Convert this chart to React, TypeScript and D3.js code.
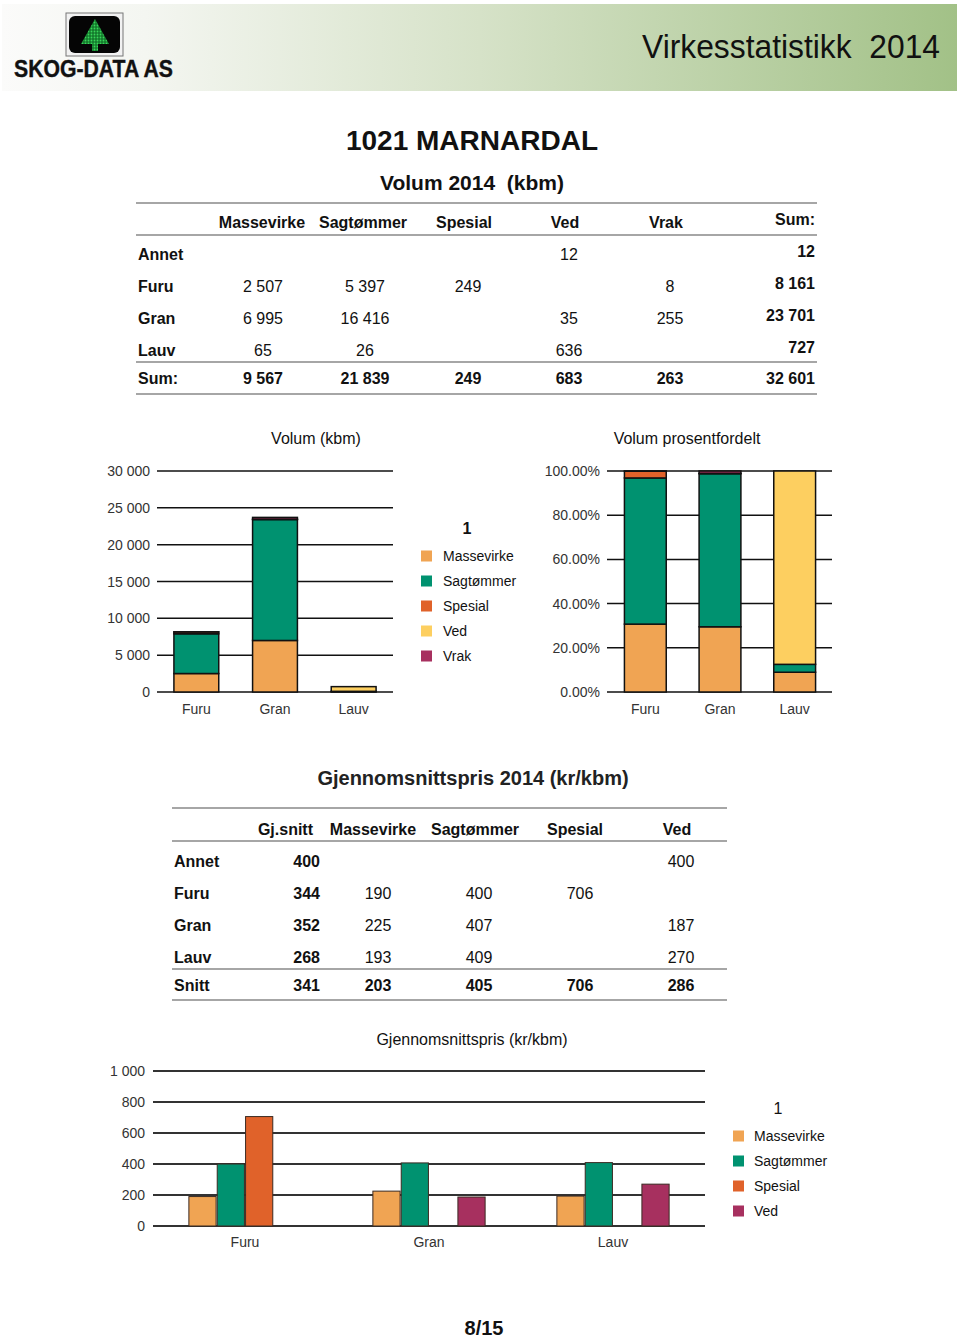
import * as d3 from "d3";

// Volume table (rows: Annet, Furu, Gran, Lauv)
const rowNames = ["Annet", "Furu", "Gran", "Lauv"];
const assortments = ["Massevirke", "Sagtømmer", "Spesial", "Ved", "Vrak"];
const colors = ["#F0A453", "#009270", "#E0622A", "#FDCF60", "#A7305F"];

const volMassevirke = [null, 2507, 6995, 65];
const volSagtommer = [null, 5397, 16416, 26];
const volSpesial = [null, 249, null, null];
const volVed = [12, null, 35, 636];
const volVrak = [null, 8, 255, null];
const volSum = [12, 8161, 23701, 727];
const volTotals = [9567, 21839, 249, 683, 263, 32601];

// Price table
const priceAssortments = ["Massevirke", "Sagtømmer", "Spesial", "Ved"];
const priceColors = ["#F0A453", "#009270", "#E0622A", "#A7305F"];
const priceAvg = [400, 344, 352, 268];
const priceMassevirke = [null, 190, 225, 193];
const priceSagtommer = [null, 400, 407, 409];
const priceSpesial = [null, 706, null, null];
const priceVed = [400, null, 187, 270];
const priceSnitt = [341, 203, 405, 706, 286];

const chartSpecies = ["Furu", "Gran", "Lauv"];

const FONT = "'Liberation Sans', Arial, sans-serif";
const fmt = d3.formatLocale({ decimal: ".", thousands: " ", grouping: [3], currency: ["", ""] }).format(",");
const pct = d3.format(".2%");

const volCols = [volMassevirke, volSagtommer, volSpesial, volVed, volVrak];
const priceCols = [priceMassevirke, priceSagtommer, priceSpesial, priceVed];

type Row = { name: string; [k: string]: number | string };

const volData: Row[] = chartSpecies.map((s) => {
  const i = rowNames.indexOf(s);
  const r: Row = { name: s };
  assortments.forEach((a, j) => (r[a] = volCols[j][i] ?? 0));
  return r;
});

const priceData = chartSpecies.map((s) => {
  const i = rowNames.indexOf(s);
  return priceAssortments
    .map((a, j) => ({ species: s, key: a, value: priceCols[j][i], color: priceColors[j] }))
    .filter((d) => d.value != null) as { species: string; key: string; value: number; color: string }[];
});

const Header = () => (
  <g>
    <defs>
      <linearGradient id="hdr" x1="0" x2="1" y1="0" y2="0">
        <stop offset="0" stopColor="#fbfbfa" />
        <stop offset="0.15" stopColor="#f4f6f1" />
        <stop offset="0.5" stopColor="#d6e2c8" />
        <stop offset="1" stopColor="#a2c187" />
      </linearGradient>
      <pattern id="dots" width="3" height="3" patternUnits="userSpaceOnUse">
        <rect width="3" height="3" fill="#137a2c" />
        <circle cx="1.5" cy="1.5" r="0.9" fill="#39d65a" />
      </pattern>
    </defs>
    <rect x={2} y={4} width={955} height={87} fill="url(#hdr)" />
    <rect x={66} y={13} width={57} height={43} fill="#f2f2f2" stroke="#777" strokeWidth={1} />
    <rect x={69} y={16} width={51} height={37} rx={6} fill="#050505" />
    <polygon points="95,19 81,44 109,44" fill="url(#dots)" />
    <rect x={92} y={44} width={6} height={7} fill="url(#dots)" />
    <text x={14} y={77} fontFamily={FONT} fontWeight="bold" fontSize={23} textLength={159} lengthAdjust="spacingAndGlyphs" fill="#111" stroke="#111" strokeWidth={0.4}>
      SKOG-DATA AS
    </text>
    <text x={642} y={58} fontFamily="'Liberation Sans Narrow', 'Liberation Sans', Arial, sans-serif" fontSize={34} textLength={298} lengthAdjust="spacingAndGlyphs" fill="#111" style={{ whiteSpace: "pre" }}>
      Virkesstatistikk  2014
    </text>
  </g>
);

const VolumeTable = () => {
  const colX = [263, 365, 468, 569, 670];
  const headX = [262, 363, 464, 565, 666];
  const rowY = [254, 286, 318, 350];
  const t = { fontFamily: FONT, fontSize: 16, fill: "#111", dominantBaseline: "central" as const };
  return (
    <g>
      <text x={472} y={140} textAnchor="middle" fontFamily={FONT} fontWeight="bold" fontSize={28} fill="#111" dominantBaseline="central">
        1021 MARNARDAL
      </text>
      <text x={472} y={182} textAnchor="middle" fontFamily={FONT} fontWeight="bold" fontSize={21} fill="#111" dominantBaseline="central" style={{ whiteSpace: "pre" }}>
        Volum 2014  (kbm)
      </text>
      {[203, 235, 362, 394].map((y) => (
        <line key={y} x1={136} x2={817} y1={y} y2={y} stroke="#888" strokeWidth={1.5} />
      ))}
      {assortments.map((a, j) => (
        <text key={a} {...t} x={headX[j]} y={222} textAnchor="middle" fontWeight="bold">
          {a}
        </text>
      ))}
      <text {...t} x={815} y={219} textAnchor="end" fontWeight="bold">Sum:</text>
      {rowNames.map((r, i) => (
        <g key={r}>
          <text {...t} x={138} y={rowY[i]} fontWeight="bold">{r}</text>
          {volCols.map((col, j) =>
            col[i] != null ? (
              <text key={j} {...t} x={colX[j]} y={rowY[i]} textAnchor="middle">{fmt(col[i] as number)}</text>
            ) : null
          )}
          <text {...t} x={815} y={rowY[i] - 3} textAnchor="end" fontWeight="bold">{fmt(volSum[i])}</text>
        </g>
      ))}
      <text {...t} x={138} y={378} fontWeight="bold">Sum:</text>
      {volTotals.slice(0, 5).map((v, j) => (
        <text key={j} {...t} x={colX[j]} y={378} textAnchor="middle" fontWeight="bold">{fmt(v)}</text>
      ))}
      <text {...t} x={815} y={378} textAnchor="end" fontWeight="bold">{fmt(volTotals[5])}</text>
    </g>
  );
};

const tickText = { fontFamily: FONT, fontSize: 14, fill: "#333", dominantBaseline: "central" as const };

const VolumeChart = () => {
  const x = d3.scaleBand().domain(chartSpecies).range([157, 393]).paddingInner(0.43).paddingOuter(0.215);
  const y = d3.scaleLinear().domain([0, 30000]).range([692, 471]);
  const series = d3.stack<Row>().keys(assortments).value((d, k) => d[k] as number)(volData);
  return (
    <g>
      <text x={316} y={438} textAnchor="middle" fontFamily={FONT} fontSize={16} fill="#111" dominantBaseline="central">Volum (kbm)</text>
      {y.ticks(6).map((t) => (
        <g key={t}>
          <line x1={157} x2={393} y1={y(t)} y2={y(t)} stroke="#111" strokeWidth={1.5} />
          <text {...tickText} x={150} y={y(t)} textAnchor="end">{fmt(t)}</text>
        </g>
      ))}
      {series.map((s, j) => (
        <g key={s.key} fill={colors[j]}>
          {s.map((d) =>
            d[1] - d[0] > 0 ? (
              <rect key={d.data.name} x={x(d.data.name)} width={x.bandwidth()} y={y(d[1])} height={y(d[0]) - y(d[1])} stroke="#111" strokeWidth={1.5} />
            ) : null
          )}
        </g>
      ))}
      {chartSpecies.map((s) => (
        <text key={s} {...tickText} x={(x(s) ?? 0) + x.bandwidth() / 2} y={709} textAnchor="middle">{s}</text>
      ))}
      <text x={467} y={528} textAnchor="middle" fontFamily={FONT} fontWeight="bold" fontSize={16} fill="#111" dominantBaseline="central">1</text>
      {assortments.map((a, j) => (
        <g key={a}>
          <rect x={421} y={556 + j * 25 - 5.5} width={11} height={11} fill={colors[j]} />
          <text {...tickText} fill="#111" x={443} y={556 + j * 25}>{a}</text>
        </g>
      ))}
    </g>
  );
};

const PercentChart = () => {
  const x = d3.scaleBand().domain(chartSpecies).range([608, 832]).paddingInner(0.44).paddingOuter(0.22);
  const y = d3.scaleLinear().domain([0, 1]).range([692, 471]);
  const series = d3.stack<Row>().keys(assortments).value((d, k) => d[k] as number).offset(d3.stackOffsetExpand)(volData);
  return (
    <g>
      <text x={687} y={438} textAnchor="middle" fontFamily={FONT} fontSize={16} fill="#111" dominantBaseline="central">Volum prosentfordelt</text>
      {y.ticks(5).map((t) => (
        <g key={t}>
          <line x1={607} x2={832} y1={y(t)} y2={y(t)} stroke="#111" strokeWidth={1.5} />
          <text {...tickText} x={600} y={y(t)} textAnchor="end">{pct(t)}</text>
        </g>
      ))}
      {series.map((s, j) => (
        <g key={s.key} fill={colors[j]}>
          {s.map((d) =>
            d[1] - d[0] > 0 ? (
              <rect key={d.data.name} x={x(d.data.name)} width={x.bandwidth()} y={y(d[1])} height={y(d[0]) - y(d[1])} stroke="#111" strokeWidth={1.5} />
            ) : null
          )}
        </g>
      ))}
      {chartSpecies.map((s) => (
        <text key={s} {...tickText} x={(x(s) ?? 0) + x.bandwidth() / 2} y={709} textAnchor="middle">{s}</text>
      ))}
    </g>
  );
};

const PriceTable = () => {
  const colX = [378, 479, 580, 681];
  const headX = [373, 475, 575, 677];
  const rowY = [861, 893, 925, 957];
  const t = { fontFamily: FONT, fontSize: 16, fill: "#111", dominantBaseline: "central" as const };
  return (
    <g>
      <text x={473} y={778} textAnchor="middle" fontFamily={FONT} fontWeight="bold" fontSize={20} fill="#222" dominantBaseline="central">
        Gjennomsnittspris 2014 (kr/kbm)
      </text>
      {[808, 841, 969, 1000].map((y) => (
        <line key={y} x1={172} x2={727} y1={y} y2={y} stroke="#888" strokeWidth={1.5} />
      ))}
      <text {...t} x={313} y={829} textAnchor="end" fontWeight="bold">Gj.snitt</text>
      {priceAssortments.map((a, j) => (
        <text key={a} {...t} x={headX[j]} y={829} textAnchor="middle" fontWeight="bold">{a}</text>
      ))}
      {rowNames.map((r, i) => (
        <g key={r}>
          <text {...t} x={174} y={rowY[i]} fontWeight="bold">{r}</text>
          <text {...t} x={320} y={rowY[i]} textAnchor="end" fontWeight="bold">{fmt(priceAvg[i])}</text>
          {priceCols.map((col, j) =>
            col[i] != null ? (
              <text key={j} {...t} x={colX[j]} y={rowY[i]} textAnchor="middle">{fmt(col[i] as number)}</text>
            ) : null
          )}
        </g>
      ))}
      <text {...t} x={174} y={985} fontWeight="bold">Snitt</text>
      <text {...t} x={320} y={985} textAnchor="end" fontWeight="bold">{fmt(priceSnitt[0])}</text>
      {priceSnitt.slice(1).map((v, j) => (
        <text key={j} {...t} x={colX[j]} y={985} textAnchor="middle" fontWeight="bold">{fmt(v)}</text>
      ))}
    </g>
  );
};

const PriceChart = () => {
  const x = d3.scaleBand().domain(chartSpecies).range([153, 705]).paddingInner(0.39).paddingOuter(0.195);
  const x1 = d3.scaleBand().domain(priceAssortments).range([0, x.bandwidth()]).paddingInner(0.04);
  const y = d3.scaleLinear().domain([0, 1000]).range([1226, 1071]);
  return (
    <g>
      <text x={472} y={1039} textAnchor="middle" fontFamily={FONT} fontSize={16} fill="#111" dominantBaseline="central">Gjennomsnittspris (kr/kbm)</text>
      {y.ticks(5).map((t) => (
        <g key={t}>
          <line x1={153} x2={705} y1={y(t)} y2={y(t)} stroke="#333" strokeWidth={2} />
          <text {...tickText} x={145} y={y(t)} textAnchor="end">{fmt(t)}</text>
        </g>
      ))}
      {priceData.map((grp, gi) => (
        <g key={chartSpecies[gi]} transform={`translate(${x(chartSpecies[gi])},0)`}>
          {grp.map((d) => (
            <rect key={d.key} x={x1(d.key)} width={x1.bandwidth()} y={y(d.value)} height={y(0) - y(d.value)} fill={d.color} stroke="#3a2a22" strokeWidth={1} />
          ))}
        </g>
      ))}
      {chartSpecies.map((s) => (
        <text key={s} {...tickText} x={(x(s) ?? 0) + x.bandwidth() / 2} y={1242} textAnchor="middle">{s}</text>
      ))}
      <text x={778} y={1108} textAnchor="middle" fontFamily={FONT} fontSize={16} fill="#111" dominantBaseline="central">1</text>
      {priceAssortments.map((a, j) => (
        <g key={a}>
          <rect x={733} y={1136 + j * 25 - 5.5} width={11} height={11} fill={priceColors[j]} />
          <text {...tickText} fill="#111" x={754} y={1136 + j * 25}>{a}</text>
        </g>
      ))}
    </g>
  );
};

export default function App() {
  return (
    <div style={{ position: "absolute", left: 0, top: 0 }}>
      <svg width={960} height={1338} style={{ display: "block", background: "#fff" }}>
        <rect width={960} height={1338} fill="#fff" />
        <Header />
        <VolumeTable />
        <VolumeChart />
        <PercentChart />
        <PriceTable />
        <PriceChart />
        <text x={484} y={1328} textAnchor="middle" fontFamily={FONT} fontWeight="bold" fontSize={20} fill="#111" dominantBaseline="central">8/15</text>
      </svg>
    </div>
  );
}
